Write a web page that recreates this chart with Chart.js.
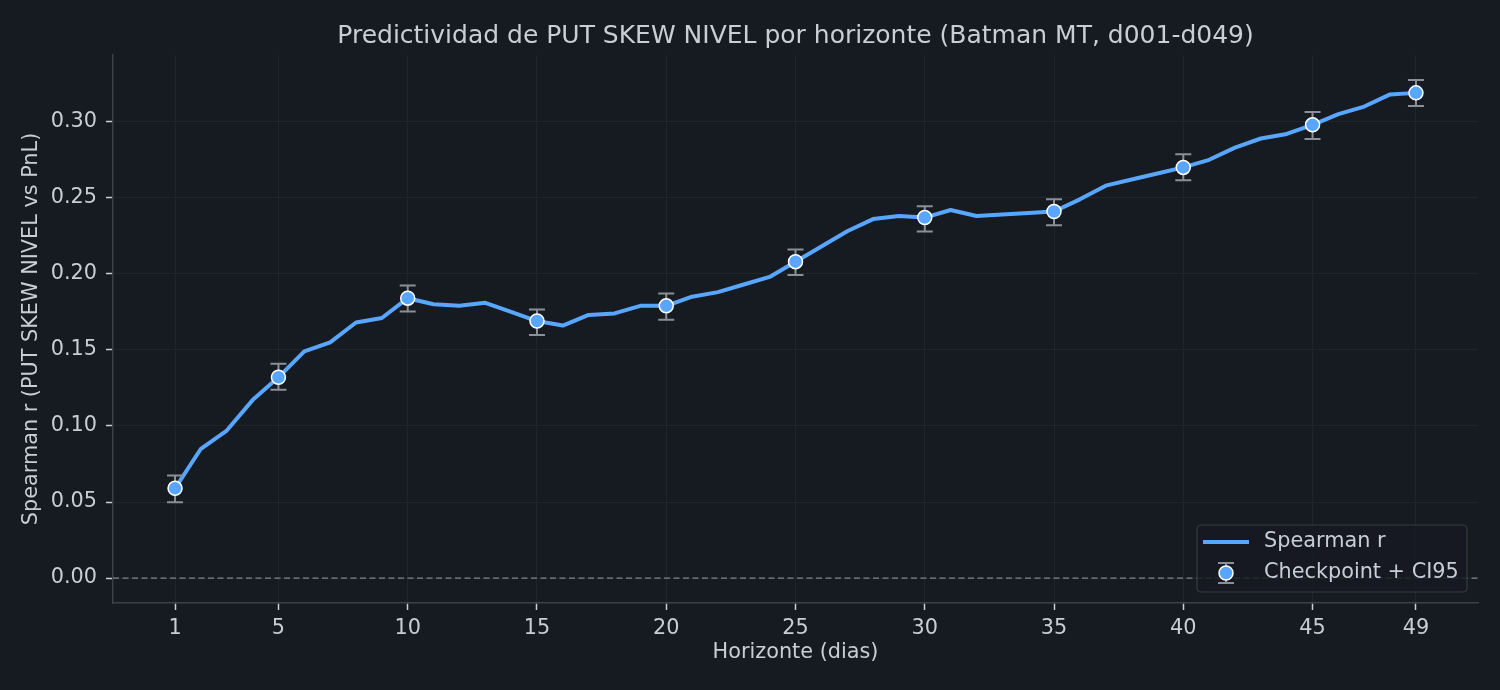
<!DOCTYPE html>
<html>
<head>
<meta charset="utf-8">
<script src="https://cdn.jsdelivr.net/npm/chart.js@4.4.1/dist/chart.umd.min.js"></script>
<style>
  html, body { margin: 0; padding: 0; background: #161a21; }
  #wrap { width: 1500px; height: 690px; }
</style>
</head>
<body>
<div id="wrap"><canvas id="grafico" width="1500" height="690"></canvas></div>
<script>
// datos (horizonte 1..49)
const horizontes = [1,2,3,4,5,6,7,8,9,10,11,12,13,14,15,16,17,18,19,20,21,22,23,24,25,
  26,27,28,29,30,31,32,33,34,35,36,37,38,39,40,41,42,43,44,45,46,47,48,49];
const spearmanR = [0.059,0.085,0.097,0.117,0.132,0.149,0.155,0.168,0.171,0.184,
  0.180,0.179,0.181,0.175,0.169,0.166,0.173,0.174,0.179,0.179,
  0.185,0.188,0.193,0.198,0.208,0.218,0.228,0.236,0.238,0.237,
  0.242,0.238,0.239,0.240,0.241,0.249,0.258,0.262,0.266,0.270,
  0.275,0.283,0.289,0.292,0.298,0.305,0.310,0.318,0.319];

// checkpoints con intervalo de confianza 95%
const checkpointDias = [1,5,10,15,20,25,30,35,40,45,49];
const ciInferior = [0.0499,0.1238,0.1752,0.1598,0.1699,0.1993,0.2279,0.2319,0.2616,0.2886,0.3103];
const ciSuperior = [0.0675,0.1409,0.1923,0.1765,0.1871,0.2161,0.2444,0.2490,0.2787,0.3064,0.3275];

const ticksX = [1,5,10,15,20,25,30,35,40,45,49];
const ticksY = [0.00,0.05,0.10,0.15,0.20,0.25,0.30];
const rangoX = [-1.4, 51.4];
const rangoY = [-0.0164, 0.3439];

const titulo = 'Predictividad de PUT SKEW NIVEL por horizonte (Batman MT, d001-d049)';
const tituloX = 'Horizonte (dias)';
const tituloY = 'Spearman r (PUT SKEW NIVEL vs PnL)';
const etiquetasLeyenda = ['Spearman r', 'Checkpoint + CI95'];

const AZUL = '#58a6ff';
const TEXTO = '#c9ced6';
const GRIS = '#8b9098';
const FUENTE = 'DejaVu Sans';

const puntosLinea = horizontes.map((d, i) => ({ x: d, y: spearmanR[i] }));
const puntosCheck = checkpointDias.map(d => ({ x: d, y: spearmanR[horizontes.indexOf(d)] }));

// barras de error debajo de los marcadores
const pluginErrores = {
  id: 'barrasError',
  beforeDatasetDraw(chart, args) {
    if (args.index !== 0) return;
    const { ctx, scales: { x, y } } = chart;
    ctx.save();
    ctx.strokeStyle = GRIS;
    ctx.lineWidth = 2;
    checkpointDias.forEach((d, i) => {
      const px = x.getPixelForValue(d);
      const lo = y.getPixelForValue(ciInferior[i]);
      const hi = y.getPixelForValue(ciSuperior[i]);
      ctx.beginPath();
      ctx.moveTo(px, lo); ctx.lineTo(px, hi);
      ctx.moveTo(px - 8, lo); ctx.lineTo(px + 8, lo);
      ctx.moveTo(px - 8, hi); ctx.lineTo(px + 8, hi);
      ctx.stroke();
    });
    ctx.restore();
  }
};

// leyenda dentro del area (abajo a la derecha)
const pluginLeyenda = {
  id: 'leyendaInterna',
  afterDraw(chart) {
    const { ctx, chartArea: a } = chart;
    const w = 270, h = 67;
    const bx = a.right - 11 - w, by = a.bottom - 11 - h;
    ctx.save();
    ctx.beginPath();
    ctx.roundRect(bx, by, w, h, 4);
    ctx.fillStyle = 'rgba(22,26,33,0.85)';
    ctx.fill();
    ctx.strokeStyle = '#363b44';
    ctx.lineWidth = 1.2;
    ctx.stroke();

    const y1 = by + 17, y2 = by + 48;
    ctx.strokeStyle = AZUL;
    ctx.lineWidth = 4;
    ctx.beginPath();
    ctx.moveTo(bx + 6, y1); ctx.lineTo(bx + 52, y1);
    ctx.stroke();

    const mx = bx + 29;
    ctx.strokeStyle = GRIS;
    ctx.lineWidth = 2;
    ctx.beginPath();
    ctx.moveTo(mx, y2 - 10); ctx.lineTo(mx, y2 + 10);
    ctx.moveTo(mx - 8, y2 - 10); ctx.lineTo(mx + 8, y2 - 10);
    ctx.moveTo(mx - 8, y2 + 10); ctx.lineTo(mx + 8, y2 + 10);
    ctx.stroke();
    ctx.beginPath();
    ctx.arc(mx, y2, 7, 0, Math.PI * 2);
    ctx.fillStyle = AZUL;
    ctx.fill();
    ctx.strokeStyle = '#ffffff';
    ctx.lineWidth = 1.5;
    ctx.stroke();

    ctx.fillStyle = TEXTO;
    ctx.font = '20.8px "' + FUENTE + '"';
    ctx.textBaseline = 'middle';
    ctx.textAlign = 'left';
    ctx.fillText(etiquetasLeyenda[0], bx + 67, y1);
    ctx.fillText(etiquetasLeyenda[1], bx + 67, y2);
    ctx.restore();
  }
};

const fondo = {
  id: 'fondo',
  beforeDraw(chart) {
    const { ctx, width, height } = chart;
    ctx.save();
    ctx.fillStyle = '#161a21';
    ctx.fillRect(0, 0, width, height);
    ctx.restore();
  }
};

new Chart(document.getElementById('grafico'), {
  type: 'line',
  data: {
    datasets: [
      {
        label: etiquetasLeyenda[1],
        type: 'scatter',
        data: puntosCheck,
        showLine: false,
        pointRadius: 7,
        pointBackgroundColor: AZUL,
        pointBorderColor: '#ffffff',
        pointBorderWidth: 1.5,
        order: 0
      },
      {
        label: etiquetasLeyenda[0],
        data: puntosLinea,
        borderColor: AZUL,
        borderWidth: 4,
        pointRadius: 0,
        tension: 0,
        borderJoinStyle: 'round',
        order: 1
      },
      {
        label: 'cero',
        data: [{ x: rangoX[0], y: 0 }, { x: rangoX[1], y: 0 }],
        borderColor: '#80868e',
        borderWidth: 1.3,
        borderDash: [6, 3.5],
        pointRadius: 0,
        order: 2
      }
    ]
  },
  options: {
    responsive: false,
    animation: false,
    devicePixelRatio: 1,
    layout: { padding: { left: 0, right: 22, top: 0, bottom: 0 } },
    plugins: {
      legend: { display: false },
      tooltip: { enabled: false },
      title: {
        display: true,
        text: titulo,
        fullSize: false,
        color: TEXTO,
        font: { family: FUENTE, size: 25, weight: 'normal', lineHeight: 1.2 },
        padding: { top: 21, bottom: 4 }
      }
    },
    scales: {
      x: {
        type: 'linear',
        min: rangoX[0],
        max: rangoX[1],
        afterBuildTicks: s => { s.ticks = ticksX.map(v => ({ value: v })); },
        afterFit: s => { s.height = 87; },
        ticks: {
          color: TEXTO,
          padding: 6,
          font: { family: FUENTE, size: 20.8 },
          maxRotation: 0,
          autoSkip: false,
          callback: v => String(v)
        },
        grid: { color: '#20252d', lineWidth: 1, tickLength: 7, tickColor: '#c9ced6', tickWidth: 1.5 },
        border: { display: true, color: '#3a3f48', width: 1.5 },
        title: {
          display: true,
          text: tituloX,
          color: TEXTO,
          font: { family: FUENTE, size: 20.8, lineHeight: 1.2 },
          padding: { top: 0, bottom: 24.5 }
        }
      },
      y: {
        type: 'linear',
        min: rangoY[0],
        max: rangoY[1],
        afterBuildTicks: s => { s.ticks = ticksY.map(v => ({ value: v })); },
        afterFit: s => { s.width = 113; },
        ticks: {
          color: TEXTO,
          padding: 9,
          font: { family: FUENTE, size: 20.8 },
          callback: v => v.toFixed(2)
        },
        grid: { color: '#20252d', lineWidth: 1, tickLength: 7, tickColor: '#c9ced6', tickWidth: 1.5 },
        border: { display: true, color: '#3a3f48', width: 1.5 },
        title: {
          display: true,
          text: tituloY,
          color: TEXTO,
          font: { family: FUENTE, size: 20.8, lineHeight: 1.2 },
          padding: { top: 19.5, bottom: 0 }
        }
      }
    }
  },
  plugins: [fondo, pluginErrores, pluginLeyenda]
});
</script>
</body>
</html>
